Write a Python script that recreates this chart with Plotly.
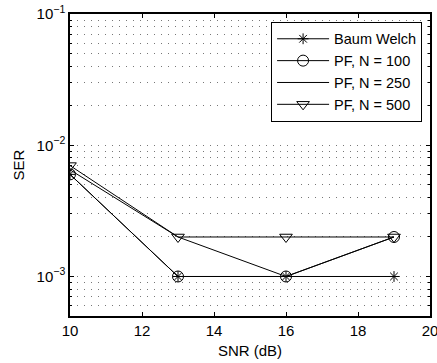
import plotly.graph_objects as go

snr = [10, 13, 16, 19]
bw = [6e-3, 1e-3, 1e-3, 1e-3]
pf100 = [6e-3, 1e-3, 1e-3, 2e-3]
pf250 = [6.5e-3, 2e-3, 1e-3, 2e-3]
pf500 = [7e-3, 2e-3, 2e-3, 2e-3]

names = ["Baum Welch", "PF, N = 100", "PF, N = 250", "PF, N = 500"]
series = [bw, pf100, pf250, pf500]
symbols = ["asterisk-open", "circle-open", None, "triangle-down-open"]
sizes = [9, 11, 0, 11]

fig = go.Figure()
for n, s, sym, sz in zip(names, series, symbols, sizes):
    if sym is None:
        fig.add_trace(go.Scatter(x=snr, y=s, name=n, mode="lines",
                                 line=dict(color="black", width=1)))
    else:
        fig.add_trace(go.Scatter(x=snr, y=s, name=n, mode="lines+markers",
                                 line=dict(color="black", width=1),
                                 marker=dict(symbol=sym, size=sz, color="black",
                                             line=dict(color="black", width=1))))

font = dict(family="Liberation Sans, Arial, sans-serif", size=15, color="black")
grid = dict(showgrid=True, gridcolor="#777", griddash="1px,6px", gridwidth=1)
fig.update_layout(
    width=437, height=363,
    margin=dict(l=70, r=7, t=14, b=47),
    paper_bgcolor="white", plot_bgcolor="white",
    font=font,
    showlegend=True,
    legend=dict(x=0.978, y=0.974, xanchor="right", yanchor="top",
                bordercolor="black", borderwidth=1, bgcolor="white",
                font=dict(family="Liberation Sans, Arial, sans-serif", size=14.5),
                itemwidth=52, tracegroupgap=0),
    xaxis=dict(range=[10, 20], tickvals=[10, 12, 14, 16, 18, 20],
               title=dict(text="SNR (dB)", standoff=8, font=dict(size=15)),
               automargin=False, ticklabeloverflow="allow",
               showline=True, linecolor="black", linewidth=1.5, mirror="ticks",
               ticks="inside", ticklen=4, tickcolor="black",
               showgrid=False, zeroline=False, tickfont=dict(size=15)),
    yaxis=dict(type="log", range=[-3.301, -1],
               tickvals=[1e-3, 1e-2, 1e-1],
               ticktext=["10<sup>\u22123</sup>", "10<sup>\u22122</sup>", "10<sup>\u22121</sup>"],
               title=dict(text="SER", standoff=8, font=dict(size=15)),
               automargin=False, ticklabeloverflow="allow",
               showline=True, linecolor="black", linewidth=1.5, mirror="ticks",
               ticks="inside", ticklen=4, tickcolor="black",
               minor=dict(tickvals=[5e-4, 6e-4, 7e-4, 8e-4, 9e-4,
                                    2e-3, 3e-3, 4e-3, 5e-3, 6e-3, 7e-3, 8e-3, 9e-3,
                                    2e-2, 3e-2, 4e-2, 5e-2, 6e-2, 7e-2, 8e-2, 9e-2],
                          ticks="inside", ticklen=2, tickcolor="black", **grid),
               zeroline=False, tickfont=dict(size=15), **grid),
)
fig.write_html("out.html")
